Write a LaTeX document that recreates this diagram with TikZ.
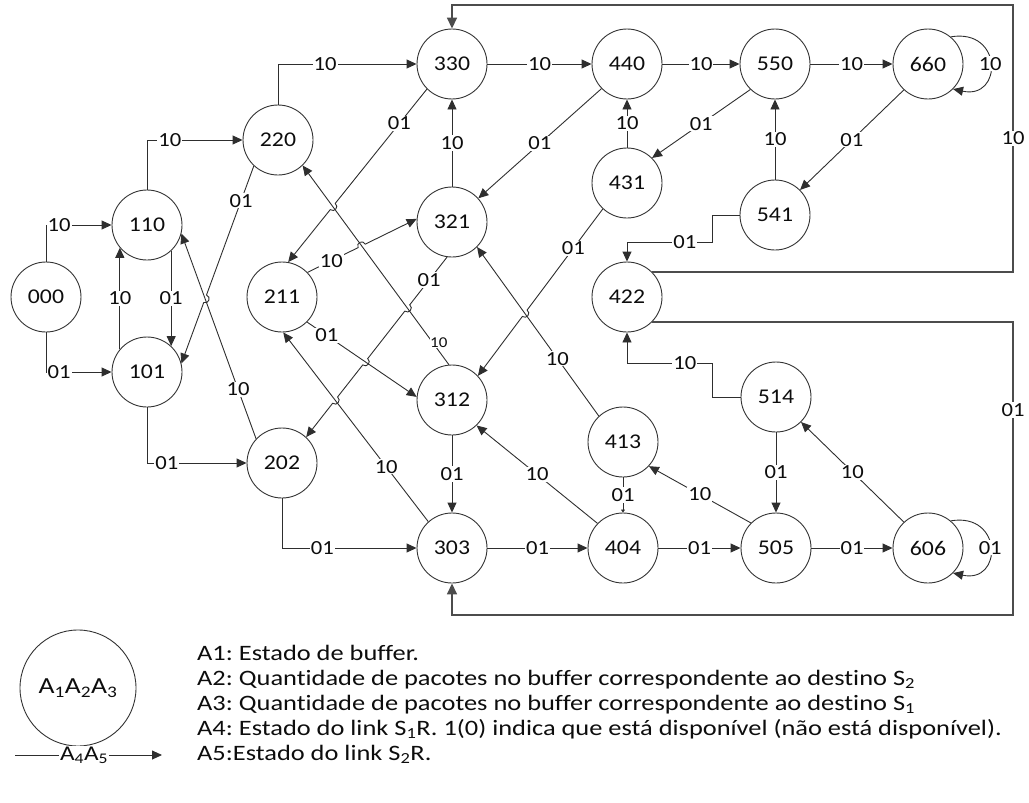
\documentclass[tikz,border=0pt]{standalone}
\usepackage{fontspec}
\setmainfont{Carlito}[FakeStretch=1.13]
\newfontfamily\legfont{Carlito}[FakeStretch=1.2,Ligatures=NoCommon]
\usetikzlibrary{arrows.meta,calc}
\frenchspacing

\begin{document}
\begin{tikzpicture}[x=1pt,y=-1pt,
  st/.style={circle,draw=black!80,line width=0.9pt,minimum size=70pt,inner sep=0pt,
             font=\fontsize{21}{24}\selectfont,text=black!95},
  arr/.style={draw=black!82,line width=0.9pt,-{Triangle[length=10pt,width=9pt]}},
  tiny/.style={draw=black!82,line width=0.9pt,-{Triangle[length=3pt,width=4pt]}},
  outer/.style={draw=black!70,line width=1.6pt,-{Triangle[length=11pt,width=10pt]}},
  lbl/.style={fill=white,inner sep=1pt,font=\fontsize{20}{22}\selectfont,text=black!95},
  slbl/.style={fill=white,inner sep=0.5pt,font=\fontsize{15}{17}\selectfont,text=black!95},
  legtxt/.style={anchor=base west,inner sep=0pt,font=\legfont\fontsize{22}{25}\selectfont,text=black!95},
  hopto/.style={bend left=90,looseness=1.7},
]
\useasboundingbox (0,0) rectangle (1029,803);

% states
\node[st] (n000) at (46,297) {000};
\node[st] (n110) at (147,225) {110};
\node[st] (n101) at (147,372) {101};
\node[st] (n220) at (278,140) {220};
\node[st] (n211) at (282,297) {211};
\node[st] (n202) at (282,463) {202};
\node[st] (n330) at (452,64) {330};
\node[st] (n321) at (452,222) {321};
\node[st] (n312) at (452,400) {312};
\node[st] (n303) at (452,548) {303};
\node[st] (n440) at (627,64) {440};
\node[st] (n431) at (627,183) {431};
\node[st] (n422) at (627,297) {422};
\node[st] (n413) at (623,442) {413};
\node[st] (n404) at (623,548) {404};
\node[st] (n550) at (775,64) {550};
\node[st] (n541) at (775,215) {541};
\node[st] (n514) at (776,397) {514};
\node[st] (n505) at (776,548) {505};
\node[st] (n660) at (928,64) {660};
\node[st] (n606) at (928,548) {606};

% end points of the slanted transitions
\coordinate (a1) at (n220.-133); \coordinate (a2) at (n101.14);
\coordinate (b1) at (n202.137);  \coordinate (b2) at (n110.-14);
\coordinate (c1) at (n330.-135); \coordinate (c2) at (n211.80);
\coordinate (d1) at (n312.95);   \coordinate (d2) at (n220.-46);
\coordinate (e1) at (n211.44);   \coordinate (e2) at (n321.175);
\coordinate (f1) at (n321.-98);  \coordinate (f2) at (n202.47);
\coordinate (g1) at (n211.-45);  \coordinate (g2) at (n312.175);
\coordinate (h1) at (n303.132);  \coordinate (h2) at (n211.-88);
\coordinate (j1) at (n413.133);  \coordinate (j2) at (n321.-45);
\coordinate (k1) at (n431.-133); \coordinate (k2) at (n312.43);

% crossing points where a line jumps over another
\coordinate (xa) at (intersection of a1--a2 and b1--b2);
\coordinate (xc) at (intersection of c1--c2 and d1--d2);
\coordinate (xe) at (intersection of e1--e2 and d1--d2);
\coordinate (xf) at (intersection of f1--f2 and d1--d2);
\coordinate (xg) at (intersection of f1--f2 and g1--g2);
\coordinate (xh) at (intersection of f1--f2 and h1--h2);
\coordinate (xk) at (intersection of k1--k2 and j1--j2);

% bends of the routed connectors
\coordinate (q541) at (712,242);
\coordinate (q514) at (712,363);
\coordinate (r1) at (1013,5);
\coordinate (r2) at (1013,615);

% left part
\draw[arr] (n000.north) |- node[lbl,pos=0.6]{10} (n110.west);
\draw[arr] (n000.south) |- node[lbl,pos=0.6]{01} (n101.west);
\draw[arr] (n101.140) -- node[lbl]{10} (n110.-140);
\draw[arr] (n110.-47) -- node[lbl]{01} (n101.47);
\draw[arr] (n110.north) |- node[lbl,pos=0.62]{10} (n220.west);
\draw[arr] (n101.south) |- node[lbl,pos=0.6]{01} (n202.west);
\draw[arr] (b1) -- node[lbl,pos=0.24]{10} (b2);
\draw[arr] (a1) -- node[lbl,pos=0.27]{01} ($(xa)!4pt!(a1)$)
  to[hopto] ($(xa)!4pt!(a2)$) -- (a2);

% second column
\draw[arr] (n220.north) |- node[lbl,pos=0.67]{10} (n330.west);
\draw[arr] (n202.south) |- node[lbl,pos=0.65]{01} (n303.west);
\draw[arr] (d1) -- node[slbl,pos=0.11,xshift=6pt]{10} (d2);
\draw[arr] (c1) -- node[lbl,pos=0.3]{01} ($(xc)!4pt!(c1)$)
  to[hopto] ($(xc)!4pt!(c2)$) -- (c2);
\draw[arr] (e1) -- node[lbl,pos=0.47]{10} ($(xe)!4pt!(e1)$)
  to[hopto] ($(xe)!4pt!(e2)$) -- (e2);
\draw[arr] (g1) -- node[lbl,pos=0.18]{01} (g2);
\draw[arr] (h1) -- node[lbl,pos=0.29]{10} (h2);
\draw[arr] (f1) -- node[lbl,pos=0.48]{01} ($(xf)!4pt!(f1)$)
  to[hopto] ($(xf)!4pt!(f2)$)
  -- ($(xg)!4pt!(f1)$) to[hopto] ($(xg)!4pt!(f2)$)
  -- ($(xh)!4pt!(f1)$) to[hopto] ($(xh)!4pt!(f2)$)
  -- (f2);

% third column
\draw[arr] (n321) -- node[lbl]{10} (n330);
\draw[arr] (n312) -- node[lbl]{01} (n303);
\draw[arr] (n330) -- node[lbl]{10} (n440);
\draw[arr] (n303) -- node[lbl]{01} (n404);
\draw[arr] (n440.-136) -- node[lbl]{01} (n321.42);
\draw[arr] (j1) -- node[lbl,pos=0.34]{10} (j2);
\draw[arr] (k1) -- node[lbl,pos=0.39]{01} ($(xk)!4pt!(k1)$)
  to[hopto] ($(xk)!4pt!(k2)$) -- (k2);
\draw[arr] (n404.136) -- node[lbl]{10} (n312.-46);

% fourth column
\draw[arr] (n431) -- node[lbl]{10} (n440);
\draw[tiny] (n413) -- node[lbl]{01} (n404);
\draw[arr] (n440) -- node[lbl]{10} (n550);
\draw[arr] (n404) -- node[lbl]{01} (n505);
\draw[arr] (n550.-134) -- node[lbl]{01} (n431.45);
\draw[arr] (n505.135) -- node[lbl]{10} (n413.-43);
\draw[arr] (n541.west) -| (q541) -| node[lbl,pos=0.16]{01} (n422.north);
\draw[arr] (n514.west) -| (q514) -| node[lbl,pos=0.16]{10} (n422.south);

% fifth and sixth columns
\draw[arr] (n541) -- node[lbl]{10} (n550);
\draw[arr] (n514) -- node[lbl]{01} (n505);
\draw[arr] (n550) -- node[lbl]{10} (n660);
\draw[arr] (n505) -- node[lbl]{01} (n606);
\draw[arr] (n660.-133) -- node[lbl]{01} (n541.45);
\draw[arr] (n606.133) -- node[lbl]{10} (n514.-45);
\draw[arr] (n660.50) .. controls (1003,28) and (1003,100) .. node[lbl]{10} (n660.-45);
\draw[arr] (n606.50) .. controls (1003,512) and (1003,584) .. node[lbl]{01} (n606.-45);

% long return paths
\draw[outer] (n422.45) -| node[lbl,pos=0.75]{10} (r1) -| (n330.north);
\draw[outer] (n422.-45) -| node[lbl,pos=0.65]{01} (r2) -| (n303.south);

% legend
\node[circle,draw=black!80,line width=0.9pt,minimum size=116pt,inner sep=0pt,
      font=\legfont\fontsize{23}{25}\selectfont,text=black!95] (leg) at (78,688)
      {A\textsubscript{1}A\textsubscript{2}A\textsubscript{3}};
\coordinate (la) at (15,755);
\coordinate (lb) at (162,755);
\draw[arr] (la) -- node[lbl,pos=0.47,font=\legfont\fontsize{21}{23}\selectfont]{A\textsubscript{4}A\textsubscript{5}} (lb);
\node[legtxt] (t1) at (197,660) {A1: Estado de buffer.};
\node[legtxt] (t2) at (197,685) {A2: Quantidade de pacotes no buffer correspondente ao destino S\textsubscript{2}};
\node[legtxt] (t3) at (197,710) {A3: Quantidade de pacotes no buffer correspondente ao destino S\textsubscript{1}};
\node[legtxt] (t4) at (197,735) {A4: Estado do link S\textsubscript{1}R. 1(0) indica que está disponível (não está disponível).};
\node[legtxt] (t5) at (197,760) {A5:Estado do link S\textsubscript{2}R.};
\end{tikzpicture}
\end{document}
